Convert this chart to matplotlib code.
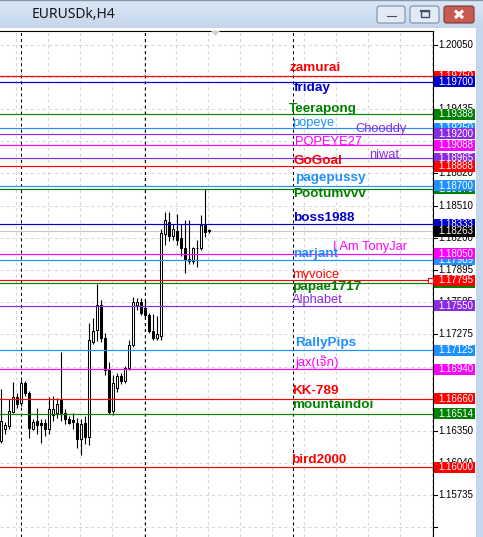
import matplotlib
matplotlib.use("Agg")
import matplotlib.pyplot as plt
import matplotlib.transforms as mtransforms
from matplotlib.patches import Rectangle, FancyBboxPatch, Polygon
import numpy as np

W, H, DPI = 483, 537, 100

title_text = "EURUSDk,H4"

# H4 bars, oldest first
bar_open = [1.16253, 1.16368, 1.16397, 1.16531, 1.16675, 1.16618, 1.16809, 1.16713, 1.16372, 1.16445,
            1.16426, 1.16426, 1.16368, 1.16502, 1.16522, 1.16656, 1.16522, 1.16464, 1.16455, 1.16426,
            1.16272, 1.16426, 1.16292, 1.17202, 1.17317, 1.17557, 1.17241, 1.16934, 1.16541, 1.16761,
            1.16876, 1.16828, 1.16953, 1.17174, 1.17557, 1.17586, 1.17528, 1.17461, 1.17308, 1.17241,
            1.17260, 1.18238, 1.18353, 1.18219, 1.18267, 1.18200, 1.18104, 1.17979, 1.17979, 1.18104,
            1.18104, 1.18324, 1.18275]
bar_high = [1.16752, 1.16431, 1.16656, 1.16819, 1.16713, 1.16838, 1.16828, 1.16733, 1.16464, 1.16570,
            1.16464, 1.16464, 1.16675, 1.16685, 1.16665, 1.17111, 1.16560, 1.16493, 1.16522, 1.16474,
            1.16464, 1.16493, 1.17385, 1.17433, 1.17763, 1.17605, 1.17289, 1.17011, 1.16886, 1.16905,
            1.16905, 1.16972, 1.17222, 1.17634, 1.17624, 1.17624, 1.17605, 1.17480, 1.17471, 1.17452,
            1.18286, 1.18449, 1.18449, 1.18334, 1.18430, 1.18334, 1.18372, 1.18372, 1.18113, 1.18180,
            1.18420, 1.18669, 1.18290]
bar_low = [1.16234, 1.16320, 1.16368, 1.16522, 1.16570, 1.16589, 1.16685, 1.16282, 1.16359, 1.16320,
           1.16234, 1.16301, 1.16320, 1.16445, 1.16474, 1.16445, 1.16416, 1.16416, 1.16368, 1.16186,
           1.16119, 1.16224, 1.16215, 1.17183, 1.17212, 1.17202, 1.16886, 1.16512, 1.16502, 1.16723,
           1.16800, 1.16809, 1.16934, 1.17154, 1.17509, 1.17461, 1.17433, 1.17289, 1.17222, 1.17222,
           1.17222, 1.18132, 1.18171, 1.18180, 1.18132, 1.18027, 1.17864, 1.17950, 1.17950, 1.17922,
           1.18085, 1.18209, 1.18245]
bar_close = [1.16445, 1.16407, 1.16541, 1.16675, 1.16608, 1.16809, 1.16713, 1.16378, 1.16435, 1.16407,
             1.16411, 1.16368, 1.16560, 1.16560, 1.16608, 1.16522, 1.16464, 1.16426, 1.16440, 1.16272,
             1.16416, 1.16292, 1.17222, 1.17308, 1.17557, 1.17241, 1.16934, 1.16531, 1.16809, 1.16876,
             1.16828, 1.16953, 1.17174, 1.17586, 1.17586, 1.17480, 1.17461, 1.17308, 1.17241, 1.17279,
             1.18247, 1.18372, 1.18219, 1.18286, 1.18180, 1.18104, 1.17998, 1.17998, 1.18104, 1.18099,
             1.18324, 1.18257, 1.18263]

bid_price = 1.18263

# horizontal line objects with their captions
level_names = ["zamurai", "friday", "Teerapong", "popeye", "Chooddy", "POPEYE27", "niwat", "GoGoal",
               "pagepussy", "Pootumvvv", "boss1988", "I Am TonyJar", "narjant", "myvoice", "papae1717",
               "Alphabet", "RallyPips", "jax(เจ๊ก)", "KK-789", "mountaindoi", "bird2000"]
level_prices = [1.19750, 1.19700, 1.19388, 1.19250, 1.19200, 1.19088, 1.18965, 1.18888,
                1.18700, 1.18670, 1.18333, 1.18050, 1.17989, 1.17795, 1.17770,
                1.17550, 1.17125, 1.16940, 1.16660, 1.16514, 1.16000]
level_colors = ["#ff0000", "#0000cd", "#008000", "#1e90ff", "#8a2be2", "#ff00ff", "#8a2be2", "#ff0000",
                "#1e90ff", "#008000", "#0000cd", "#ff00ff", "#1e90ff", "#ff0000", "#008000",
                "#8a2be2", "#1e90ff", "#ff00ff", "#ff0000", "#008000", "#ff0000"]

# price grid levels and the scale labels that are not covered by a price tag
grid_levels = [1.20050, 1.19743, 1.19435, 1.19128, 1.18820, 1.18510, 1.18200, 1.17895,
               1.17585, 1.17275, 1.16965, 1.16655, 1.16350, 1.16040, 1.15735, 1.15425]
scale_labels = [1.20050, 1.19435, 1.18820, 1.18510, 1.18200, 1.17895,
                1.17585, 1.17275, 1.16350, 1.16040, 1.15735]

# bars where the period separators fall
separator_bars = [5, 36, 73]

# ---- caption styling: bold flag and pixel offset from (separator 73, level price)
caption_bar = 73
caption_bold = [1, 1, 1, 0, 0, 0, 0, 1, 1, 1, 1, 0, 1, 0, 1, 0, 1, 0, 1, 1, 1]
caption_dx = [-2.5, 1.5, -3.5, -0.5, 62.5, 2.5, 76.5, 0.5, 2.5, 0.5, 0.5, 40.5, 0.5, -0.5, -0.5,
              -0.5, 2.5, 2.5, -0.5, -0.5, -1.5]
caption_dy = [8.6, -6.5, 5.0, 5.7, 4.6, 3.6, 3.2, 5.2, 7.8, -5.0, 6.1, 6.6, 6.0, 5.2, -4.2,
              5.8, 7.1, 7.4, 7.6, 8.8, 7.4]
# price tags that sit underneath a neighbouring tag
tag_under = {"zamurai", "popeye", "Pootumvvv", "narjant", "papae1717"}

TEXT_FONT = ["Liberation Sans", "DejaVu Sans", "Noto Sans Thai", "Noto Sans"]

# ---- geometry of the terminal window (pixels)
PX_PER_PRICE = 10430.0
CHART_TOP, CHART_BOTTOM, CHART_RIGHT = 31, 537, 433
REF_PRICE, REF_Y = 1.20050, 45
TOP_PRICE = REF_PRICE + (REF_Y - CHART_TOP) / PX_PER_PRICE
BOTTOM_PRICE = REF_PRICE - (CHART_BOTTOM - REF_Y) / PX_PER_PRICE
BAR_PX = 4.0
BAR0_X = 0.5

fig = plt.figure(figsize=(W / DPI, H / DPI), dpi=DPI)
fig.patch.set_facecolor("white")


def px_axes(x0, y0, x1, y1, **kw):
    return fig.add_axes([x0 / W, 1 - y1 / H, (x1 - x0) / W, (y1 - y0) / H], **kw)


# ---------------- chart area ----------------
ax = px_axes(0, CHART_TOP, CHART_RIGHT, CHART_BOTTOM)
ax.set_facecolor("white")
ax.set_xlim((0 - BAR0_X) / BAR_PX, (CHART_RIGHT - BAR0_X) / BAR_PX)
ax.set_ylim(BOTTOM_PRICE, TOP_PRICE)
ax.set_xticks([])
ax.set_yticks([])
for side in ("left", "bottom"):
    ax.spines[side].set_visible(False)
for side in ("top", "right"):
    ax.spines[side].set_color("black")
    ax.spines[side].set_linewidth(0.8)

grid_kw = dict(color="#d6d6d6", lw=0.75, ls=(0, (2.9, 2.9)), zorder=0.5)
for p in grid_levels:
    ax.axhline(p, **grid_kw)
for gx in np.arange((16 - BAR0_X) / BAR_PX, (CHART_RIGHT - BAR0_X) / BAR_PX, 8):
    ax.axvline(gx, **grid_kw)
for sb in separator_bars:
    ax.axvline(sb, color="black", lw=0.75, ls=(0, (2.9, 2.9)), zorder=1)

ax.axhline(bid_price, color="#c8c8c8", lw=0.8, zorder=1.5)

# candles
xs = np.arange(len(bar_open))
o = np.array(bar_open)
c = np.array(bar_close)
ax.vlines(xs, bar_low, bar_high, color="black", lw=0.8, zorder=3)
faces = ["white" if cc >= oo else "black" for oo, cc in zip(o, c)]
ax.bar(xs, np.abs(c - o), bottom=np.minimum(o, c), width=0.5, color=faces,
       edgecolor="black", linewidth=0.75, zorder=4)

# level lines and captions
for name, p, col, b, dx, dy in zip(level_names, level_prices, level_colors,
                                   caption_bold, caption_dx, caption_dy):
    ax.axhline(p, color=col, lw=0.85, zorder=5)
    ax.annotate(name, xy=(caption_bar, p), xytext=(dx, dy), textcoords="offset pixels",
                ha="left", va="center", color=col, family=TEXT_FONT,
                fontsize=9.7 if b else 9.3, fontweight="bold" if b else "normal",
                zorder=6, annotation_clip=False)

# selection handle on the right end of one line
blend = mtransforms.blended_transform_factory(ax.transAxes, ax.transData)
ax.plot([429.5 / CHART_RIGHT], [level_prices[level_names.index("myvoice")]], marker="s",
        ms=3.6, mfc="white", mec="red", mew=0.8, transform=blend, clip_on=False, zorder=7)

# chart shift marker
ax.add_patch(Polygon([(211 / CHART_RIGHT, 1.0), (220 / CHART_RIGHT, 1.0),
                      (215.5 / CHART_RIGHT, 1 - 5 / (CHART_BOTTOM - CHART_TOP))],
                     closed=True, transform=ax.transAxes, fc="#d0d0d0", ec="none",
                     zorder=7, clip_on=False))

# ---------------- price scale ----------------
sc = px_axes(CHART_RIGHT, CHART_TOP, 476, CHART_BOTTOM)
sc.set_xlim(0, 476 - CHART_RIGHT)
sc.set_ylim(BOTTOM_PRICE, TOP_PRICE)
sc.axis("off")
SCALE_FONT = dict(family=["Liberation Sans", "DejaVu Sans"], fontsize=7.0)
for p in grid_levels:
    sc.plot([0.5, 3.5], [p, p], color="black", lw=0.8, zorder=1)
for p in scale_labels:
    sc.text(5, p, f"{p:.5f}", ha="left", va="center", color="black", zorder=1, **SCALE_FONT)

half = 5.5 / PX_PER_PRICE


def price_tag(p, col, z):
    sc.add_patch(Rectangle((1, p - half), 41, 2 * half, fc=col, ec="none", zorder=z))
    sc.text(5, p, f"{p:.5f}", ha="left", va="center", color="white", zorder=z + 0.01, **SCALE_FONT)


for k, (name, p, col) in enumerate(zip(level_names, level_prices, level_colors)):
    price_tag(p, col, (2 if name in tag_under else 3) + k * 0.02)
price_tag(bid_price, "black", 4)

# ---------------- window frame ----------------
strip = px_axes(476, 28, W, H)
strip.set_facecolor("#c3d6ec")
strip.set_xticks([]); strip.set_yticks([])
for s in strip.spines.values():
    s.set_visible(False)

tb = px_axes(0, 0, W, 28)
tb.set_xlim(0, W)
tb.set_ylim(28, 0)
tb.axis("off")
top_col = np.array([0.86, 0.91, 0.96])
bot_col = np.array([0.77, 0.84, 0.92])
grad = np.linspace(0, 1, 28)[:, None, None] * (bot_col - top_col) + top_col
tb.imshow(np.repeat(grad, 2, axis=1), extent=(0, W, 28, 0), aspect="auto", zorder=0)
tb.plot([0, W], [0.5, 0.5], color="#8796aa", lw=1.0, zorder=1)
tb.text(32, 14.5, title_text, ha="left", va="center", fontsize=10,
        family=["Noto Sans", "DejaVu Sans"], color="#151515", zorder=2)

for bx, bw in ((377, 28), (410, 29)):
    tb.add_patch(FancyBboxPatch((bx, 6), bw, 17, boxstyle="round,pad=0,rounding_size=2.5",
                                fc="#e1eaf5", ec="#7c8ea8", lw=0.8, zorder=2))
tb.add_patch(Rectangle((386, 14.5), 10.5, 2.6, fc="#40506a", ec="white", lw=0.5, zorder=3))
tb.add_patch(Rectangle((420.5, 10.5), 8, 7, fc="none", ec="#40506a", lw=1.0, zorder=3))
tb.plot([420.5, 428.5], [11.2, 11.2], color="#40506a", lw=1.6, zorder=3)
tb.add_patch(FancyBboxPatch((444, 6), 30, 17, boxstyle="round,pad=0,rounding_size=2.5",
                            fc="#c95a4f", ec="#7a3a33", lw=0.8, zorder=2))
tb.plot([455, 463], [10.5, 18], color="white", lw=2.2, solid_capstyle="butt", zorder=3)
tb.plot([463, 455], [10.5, 18], color="white", lw=2.2, solid_capstyle="butt", zorder=3)

fig.savefig("out.png", dpi=DPI)
